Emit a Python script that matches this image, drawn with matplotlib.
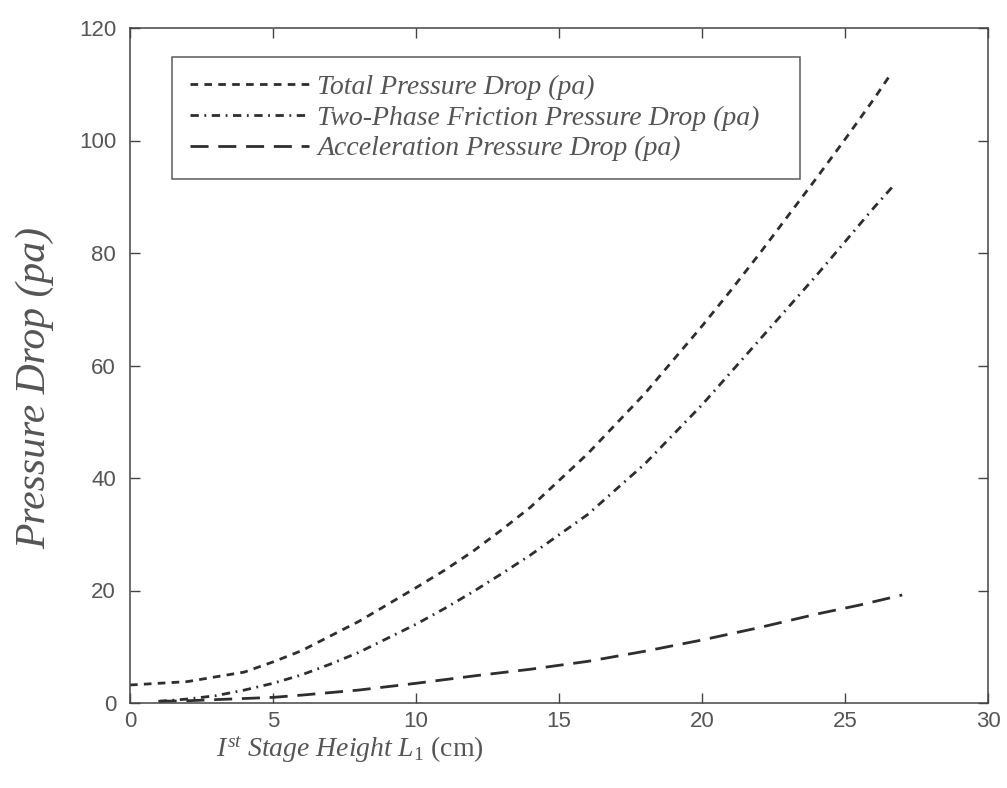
import matplotlib
matplotlib.use("Agg")
import matplotlib.pyplot as plt

# ---- data ----
total_x = [0, 2, 4, 5, 6, 8, 10, 11, 12, 13, 14, 16, 18, 20, 21, 22, 24, 25, 26, 26.6]
total_y = [3.2, 3.8, 5.5, 7.3, 9.3, 14.5, 20.5, 23.6, 27.0, 30.8, 34.8, 44.3, 55.0, 67.0, 73.3, 79.8, 93.3, 100.2, 107.3, 111.8]

friction_x = [1, 2, 3, 4, 5, 6, 7, 8, 9, 10, 11, 12, 13, 14, 16, 18, 20, 22, 24, 25, 26, 26.7]
friction_y = [0.3, 0.7, 1.3, 2.3, 3.5, 5.0, 6.9, 9.0, 11.5, 14.0, 16.8, 19.8, 23.0, 26.3, 33.5, 42.5, 53.0, 64.5, 76.0, 82.0, 88.0, 92.0]

accel_x = [1, 2, 3, 4, 5, 6, 8, 10, 12, 14, 16, 18, 20, 22, 24, 25.5, 27]
accel_y = [0.3, 0.4, 0.6, 0.8, 1.0, 1.4, 2.3, 3.5, 4.8, 6.0, 7.4, 9.2, 11.2, 13.4, 15.8, 17.4, 19.2]

labels = ["Total Pressure Drop (pa)",
          "Two-Phase Friction Pressure Drop (pa)",
          "Acceleration Pressure Drop (pa)"]
xticks = [0, 5, 10, 15, 20, 25, 30]
yticks = [0, 20, 40, 60, 80, 100, 120]

plt.rcParams['lines.scale_dashes'] = False
plt.rcParams['mathtext.fontset'] = 'custom'
plt.rcParams['mathtext.rm'] = 'Liberation Serif'
plt.rcParams['mathtext.it'] = 'Liberation Serif:italic'

fig = plt.figure(figsize=(10.07, 7.88), dpi=100)
ax = fig.add_axes([130/1007, 1-703/788, 858/1007, 675/788])

lc = '#2e2e2e'
lw = 2.0
ax.plot(total_x, total_y, color=lc, lw=lw, dashes=(5.5, 4.5), label=labels[0])
ax.plot(friction_x, friction_y, color=lc, lw=lw, dashes=(6.0, 4.0, 1.3, 4.0), label=labels[1])
ax.plot(accel_x, accel_y, color=lc, lw=lw, dashes=(13.0, 7.0), label=labels[2])

ax.set_xlim(0, 30)
ax.set_ylim(0, 120)
ax.set_xticks(xticks)
ax.set_yticks(yticks)
ax.tick_params(direction='in', length=7, width=1.0, top=True, right=True,
               colors='#444444', labelsize=16)
ax.tick_params(axis='y', pad=10)
ax.tick_params(axis='x', pad=6)
for lab in ax.get_xticklabels() + ax.get_yticklabels():
    lab.set_fontfamily('Liberation Sans')
    lab.set_color('#555555')
for s in ax.spines.values():
    s.set_color('#444444')
    s.set_linewidth(1.1)

leg = ax.legend(loc='upper left', bbox_to_anchor=(0.049, 0.778, 0.732, 0.179),
                mode='expand', borderaxespad=0, frameon=True, fancybox=False,
                handlelength=4.3, handletextpad=0.3, labelspacing=0.19,
                borderpad=0.63,
                prop={'family': 'Liberation Serif', 'style': 'italic', 'size': 20})
leg.get_frame().set_edgecolor('#333333')
leg.get_frame().set_linewidth(1.1)
for t in leg.get_texts():
    t.set_color('#555555')

fig.text(35/1007, 1-388/788, 'Pressure Drop (pa)', rotation=90, va='center', ha='center',
         family='Liberation Serif', style='italic', size=30, color='#555555')
fig.text(350/1007, 1-750/788, r'$\mathit{I^{st}\ Stage\ Height\ L_{1}}$ (cm)',
         va='center', ha='center', family='Liberation Serif', size=20, color='#555555')

fig.savefig('out.png', dpi=100, facecolor='white')
